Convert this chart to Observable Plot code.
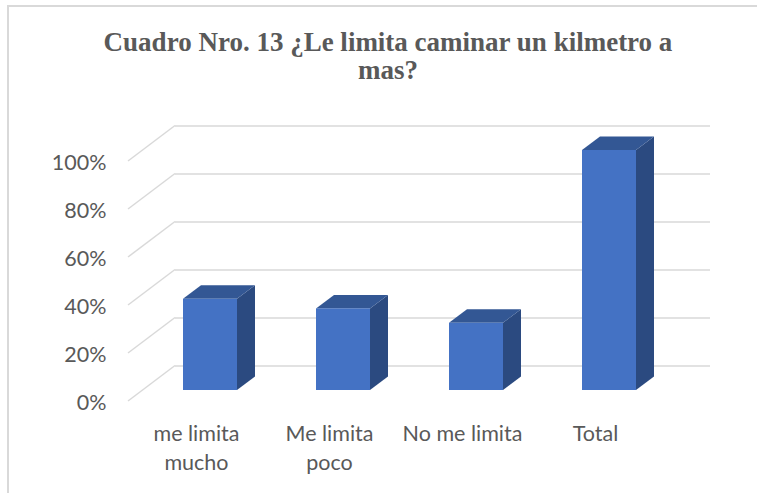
<!DOCTYPE html>
<html>
<head>
<meta charset="utf-8">
<script src="https://cdn.jsdelivr.net/npm/d3@7"></script>
<script src="https://cdn.jsdelivr.net/npm/@observablehq/plot@0.6"></script>
<style>
  html, body { margin: 0; padding: 0; background: #fff; }
  #wrap { position: relative; width: 757px; height: 493px; overflow: hidden; background: #fff; }
  #frame { position: absolute; left: 7px; top: 5px; width: 800px; height: 600px; border-left: 2px solid #d9d9d9; border-top: 2px solid #d9d9d9; box-sizing: border-box; }
  #title { position: absolute; left: 0; top: 27.5px; width: 776px; text-align: center;
    font-family: "Liberation Serif", "Times New Roman", serif; font-weight: bold; font-size: 27px;
    line-height: 28.7px; color: #595959; }
  #chart { position: absolute; left: 0; top: 0; }
</style>
</head>
<body>
<div id="wrap">
  <div id="frame"></div>
  <div id="chart"></div>
  <div id="title">Cuadro Nro. 13 ¿Le limita caminar un kilmetro a<br>mas?</div>
</div>
<script>
// ---- data ----
const categories = ["me limita\nmucho", "Me limita\npoco", "No me limita", "Total"];
const values = [38, 34, 28, 100];
const yTicks = [0, 20, 40, 60, 80, 100];

const data = categories.map((c, i) => ({cat: c, value: values[i]}));

// ---- 3D projection offsets (pixels) ----
const BAR_DX = 18, BAR_DY = -13.5;     // bar depth
const WALL_DX = 33, WALL_DY = -24.5;   // back wall relative to bar front plane
const FRONT_DX = -14, FRONT_DY = 11;   // front axis plane relative to bar front plane

const FRONT = "#4472C4", TOP = "#335794", SIDE = "#2B4A80", GRID = "#d9d9d9", TEXT = "#595959";

function walls(index, scales) {
  const {x, y} = scales;
  const r = x.range();
  const x0 = Math.min(...r);
  const g = d3.create("svg:g").attr("stroke", GRID).attr("stroke-width", 1.5).attr("fill", "none");
  for (const t of yTicks) {
    g.append("line")
      .attr("x1", x0 + FRONT_DX).attr("y1", y(t) + FRONT_DY)
      .attr("x2", x0 + WALL_DX).attr("y2", y(t) + WALL_DY);
  }
  return g.node();
}

function barDepth(index, scales) {
  const {x, y} = scales;
  const bw = x.bandwidth();
  const g = d3.create("svg:g");
  data.forEach(d => {
    const xa = x(d.cat), xb = xa + bw, y0 = y(0), yv = y(d.value);
    g.append("path")
      .attr("d", `M${xb},${yv}L${xb + BAR_DX},${yv + BAR_DY}L${xb + BAR_DX},${y0 + BAR_DY}L${xb},${y0}Z`)
      .attr("fill", SIDE);
    g.append("path")
      .attr("d", `M${xa},${yv}L${xa + BAR_DX},${yv + BAR_DY}L${xb + BAR_DX},${yv + BAR_DY}L${xb},${yv}Z`)
      .attr("fill", TOP);
  });
  return g.node();
}

const chart = Plot.plot({
  width: 757,
  height: 493,
  marginLeft: 142,
  marginRight: 80,
  marginTop: 150,
  marginBottom: 103,
  style: {fontFamily: "Lato, 'Open Sans', sans-serif", fontSize: "21.5px", color: TEXT, background: "transparent"},
  x: {domain: categories, range: [142, 677], paddingInner: 0.596, paddingOuter: 0.298},
  y: {domain: [0, 100], range: [390, 150], nice: false},
  marks: [
    Plot.ruleY(yTicks, {y: d => d, dx: WALL_DX, dy: WALL_DY, stroke: GRID, strokeWidth: 1.5}),
    walls,
    barDepth,
    Plot.barY(data, {x: "cat", y: "value", fill: FRONT}),
    Plot.axisY(yTicks, {tickSize: 0, tickPadding: 22, dx: FRONT_DX, dy: 12.5, tickFormat: d => d + "%", fill: TEXT, fontSize: 21.5, label: null}),
    Plot.axisX({tickSize: 0, tickPadding: 24, dx: FRONT_DX, dy: 6.5, fill: TEXT, fontSize: 21.5, lineHeight: 1.33, label: null})
  ]
});
document.getElementById("chart").appendChild(chart);
</script>
</body>
</html>
